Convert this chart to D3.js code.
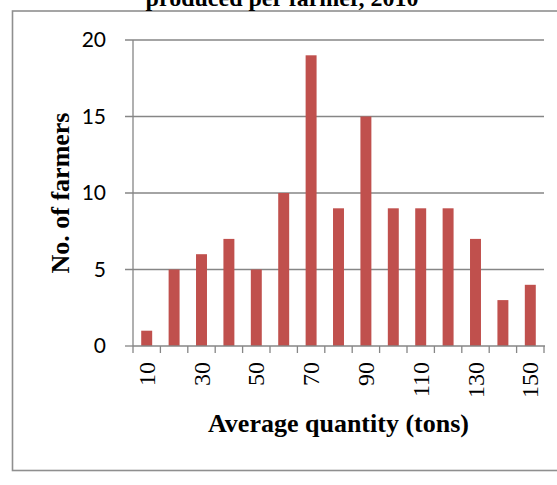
<!DOCTYPE html>
<html>
<head>
<meta charset="utf-8">
<script src="https://cdn.jsdelivr.net/npm/d3@7"></script>
<style>
html,body{margin:0;padding:0;background:#fff;}
svg{display:block;}
</style>
</head>
<body>
<svg id="chart" width="557" height="485"></svg>
<script>
const categories = ["10","20","30","40","50","60","70","80","90","100","110","120","130","140","150"];
const farmers = [1,5,6,7,5,10,19,9,15,9,9,9,7,3,4];
const yTicks = [0,5,10,15,20];
const xTickLabels = ["10","30","50","70","90","110","130","150"];
const titleText = "produced per farmer, 2010";
const xTitle = "Average quantity (tons)";
const yTitle = "No. of farmers";

const svg = d3.select("#chart");
const W = 557, H = 485;
const m = {left:133, right:544, top:40, bottom:346};
const grey = "#868686";

// outer frame
svg.append("rect").attr("x",12.5).attr("y",11).attr("width",W).attr("height",459.5)
  .attr("fill","none").attr("stroke","#8f8f8f").attr("stroke-width",1.6);

// title (second line visible, top cut off as in the reference)
svg.append("text").attr("x",282).attr("y",6).attr("text-anchor","middle")
  .attr("font-family","Liberation Serif, Times New Roman, serif").attr("font-weight","bold")
  .attr("font-size",24).attr("fill","#000").text(titleText);

const x = d3.scaleBand().domain(categories).range([m.left,m.right]).paddingInner(0.6).paddingOuter(0.3);
const xEdge = d3.scaleLinear().domain([0,categories.length]).range([m.left,m.right]);
const y = d3.scaleLinear().domain([0,20]).range([m.bottom,m.top]);

// gridlines
svg.append("g").selectAll("line").data(yTicks.filter(d=>d>0)).join("line")
  .attr("x1",m.left-8).attr("x2",m.right).attr("y1",d=>y(d)).attr("y2",d=>y(d))
  .attr("stroke",grey).attr("stroke-width",1.3);

// y axis
svg.append("line").attr("x1",m.left).attr("x2",m.left).attr("y1",m.top).attr("y2",m.bottom)
  .attr("stroke",grey).attr("stroke-width",1.3);
svg.append("line").attr("x1",m.left-8).attr("x2",m.left).attr("y1",y(0)).attr("y2",y(0))
  .attr("stroke",grey).attr("stroke-width",1.3);
svg.append("g").selectAll("text").data(yTicks).join("text")
  .attr("x",106).attr("y",d=>y(d)).attr("dy","0.35em").attr("text-anchor","end")
  .attr("font-family","Lato, Carlito, sans-serif").attr("font-size",21).attr("fill","#000")
  .text(d=>d);

// bars
svg.append("g").selectAll("rect").data(farmers).join("rect")
  .attr("x",(d,i)=>x(categories[i])).attr("width",x.bandwidth())
  .attr("y",d=>y(d)).attr("height",d=>y(0)-y(d))
  .attr("fill","#C0504D");

// x axis
svg.append("line").attr("x1",m.left).attr("x2",m.right+1).attr("y1",m.bottom).attr("y2",m.bottom)
  .attr("stroke",grey).attr("stroke-width",1.3);
svg.append("g").selectAll("line").data(d3.range(categories.length+1)).join("line")
  .attr("x1",d=>xEdge(d)).attr("x2",d=>xEdge(d)).attr("y1",m.bottom).attr("y2",m.bottom+7)
  .attr("stroke",grey).attr("stroke-width",1.3);
svg.append("g").selectAll("text").data(xTickLabels).join("text")
  .attr("transform",d=>`translate(${x(d)+x.bandwidth()/2},362) rotate(-90)`)
  .attr("dy","0.34em").attr("text-anchor","end")
  .attr("font-family","Liberation Serif, Times New Roman, serif").attr("font-size",24).attr("fill","#000")
  .text(d=>d);

// axis titles
svg.append("text").attr("x",(m.left+m.right)/2).attr("y",432).attr("text-anchor","middle")
  .attr("font-family","Liberation Serif, Times New Roman, serif").attr("font-weight","bold")
  .attr("font-size",26).attr("fill","#000").text(xTitle);
svg.append("text").attr("transform",`translate(69,${(m.top+m.bottom)/2}) rotate(-90)`)
  .attr("text-anchor","middle")
  .attr("font-family","Liberation Serif, Times New Roman, serif").attr("font-weight","bold")
  .attr("font-size",26).attr("fill","#000").text(yTitle);
</script>
</body>
</html>
